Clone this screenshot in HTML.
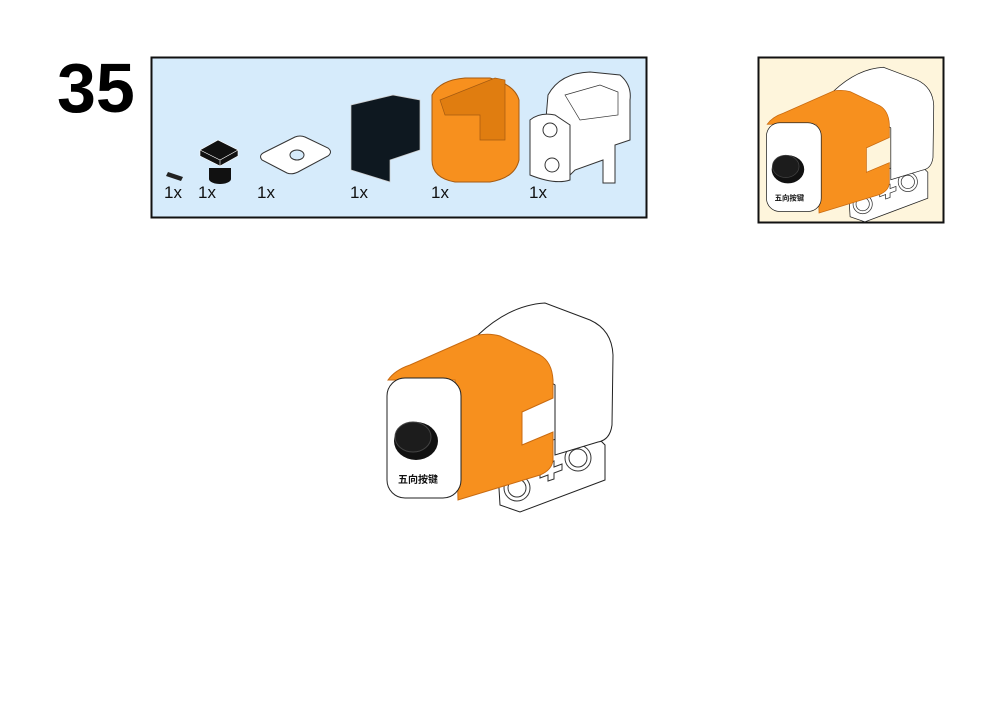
<!DOCTYPE html>
<html><head><meta charset="utf-8"><style>
html,body{margin:0;padding:0;background:#fff;width:1001px;height:708px;overflow:hidden}
svg{display:block}
text{font-family:"Liberation Sans","Noto Sans CJK SC",sans-serif}
</style></head><body>
<svg width="1001" height="708" viewBox="0 0 1001 708" xmlns="http://www.w3.org/2000/svg">
<defs>
<g id="model">
  <path d="M497,455 L590,430 L605,445 L605,480 L520,512 L500,505 Z" fill="#fff" stroke="#222" stroke-width="1"/>
  <circle cx="517" cy="488" r="13" fill="#fff" stroke="#333"/><circle cx="517" cy="488" r="9" fill="#fff" stroke="#333"/>
  <circle cx="578" cy="458" r="13" fill="#fff" stroke="#333"/><circle cx="578" cy="458" r="9" fill="#fff" stroke="#333"/>
  <path d="M540,472 l8,-3 0,-6 6,-2 0,6 8,-3 0,6 -8,3 0,6 -6,2 0,-6 -8,3z" fill="#fff" stroke="#333"/>
  <path d="M478,335 Q510,305 545,303 L590,320 Q612,330 613,355 L612,425 Q610,440 598,442 L555,455 L555,385 Z" fill="#fff" stroke="#222" stroke-width="1"/>
  <path d="M388,380 Q395,370 410,365 L478,335 Q490,333 500,336 L540,355 Q552,362 553,380 L553,398 L522,412 L522,445 L553,432 L553,460 Q552,470 540,475 L458,500 L455,380 Z" fill="#f7901e" stroke="#c86a10" stroke-width="1"/>
  <rect x="387" y="378" width="74" height="120" rx="18" fill="#fff" stroke="#222" stroke-width="1"/>
  <ellipse cx="416" cy="441" rx="22" ry="19" fill="#111"/>
  <ellipse cx="413" cy="437" rx="18" ry="15" fill="#1c1c1c" stroke="#444"/>
  <text x="398" y="483" font-size="10" font-weight="bold" fill="#111">五向按键</text>
</g>
</defs>

<text x="57" y="112" font-size="70" font-weight="bold" fill="#000">35</text>

<rect x="151.5" y="57.5" width="495" height="160" fill="#d6ebfb" stroke="#111" stroke-width="2"/>
<path d="M168,172 l15,5 -2,4 -15,-5z" fill="#222"/>
<text x="164" y="198" font-size="17" fill="#111">1x</text>
<path d="M200,150 l18,-10 20,10 -18,10z M200,150 l0,6 20,10 0,-6z M220,166 l18,-10 0,-6 -18,10z" fill="#111" stroke="#fff" stroke-width="0.6"/>
<ellipse cx="220" cy="179" rx="11" ry="5" fill="#111"/><rect x="209" y="168" width="22" height="11" fill="#111"/>
<text x="198" y="198" font-size="17" fill="#111">1x</text>
<path d="M262,160 Q258,155 265,152 L295,137 Q300,135 305,137 L328,148 Q333,152 328,156 L298,172 Q292,175 287,173 Z" fill="#fff" stroke="#333"/>
<ellipse cx="297" cy="155" rx="7" ry="5" fill="#d6ebfb" stroke="#333"/>
<text x="257" y="198" font-size="17" fill="#111">1x</text>
<path d="M351,105 L393,95 L420,100 L420,150 L390,160 L390,182 L351,170 Z" fill="#0e1820" stroke="#ccc" stroke-width="0.7"/>
<text x="350" y="198" font-size="17" fill="#111">1x</text>
<path d="M432,95 Q440,80 465,78 L490,78 Q515,85 519,100 L519,160 Q515,178 490,182 L455,182 Q432,178 432,160 Z" fill="#f7901e" stroke="#a55a10"/>
<path d="M440,100 L495,78 L505,80 L505,140 L480,140 L480,115 L445,115 Z" fill="#e07d10" stroke="#a55a10" stroke-width="0.7"/>
<text x="431" y="198" font-size="17" fill="#111">1x</text>
<path d="M548,95 Q560,73 590,72 L620,75 Q632,85 630,100 L630,140 L615,145 L615,183 L603,183 L603,160 L575,170 L565,180 Q548,180 545,170 L545,130 Z" fill="#fff" stroke="#333"/>
<path d="M530,120 Q540,112 555,115 L570,125 L570,180 Q555,185 530,175 Z" fill="#fff" stroke="#333"/>
<circle cx="550" cy="130" r="7" fill="#fff" stroke="#333"/><circle cx="552" cy="165" r="7" fill="#fff" stroke="#333"/>
<path d="M565,95 L600,85 L618,92 L618,115 L580,120 Z" fill="#fff" stroke="#333" stroke-width="0.7"/>
<text x="529" y="198" font-size="17" fill="#111">1x</text>

<rect x="758.5" y="57.5" width="185" height="165" fill="#fef5dc" stroke="#111" stroke-width="2"/>
<g transform="translate(765,65) scale(0.74) translate(-385,-300)"><use href="#model"/></g>

<use href="#model"/>
</svg>
</body></html>
